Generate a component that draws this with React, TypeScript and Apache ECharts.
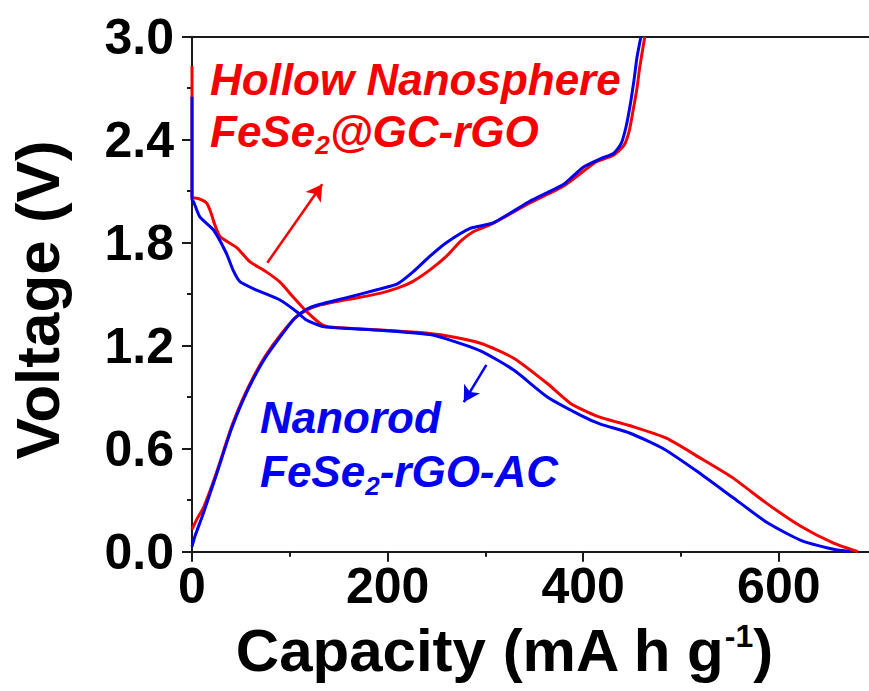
import React, { useEffect, useRef } from 'react';
import * as echarts from 'echarts';

// Capacity (mA h g-1), Voltage (V)
const hollowDischarge: number[][] = [
  [0, 2.83], [0, 2.06], [3, 2.06], [10, 2.05], [15, 2.03], [19, 1.98], [23, 1.91], [28, 1.84],
  [35, 1.81], [46, 1.77], [59, 1.69], [76, 1.63], [90, 1.57], [104, 1.48], [117, 1.4],
  [131, 1.33], [139, 1.31], [165, 1.3], [192, 1.292], [230, 1.278], [260, 1.258],
  [295, 1.214], [329, 1.127], [363, 0.981], [387, 0.864], [414, 0.79], [451, 0.728],
  [485, 0.661], [519, 0.548], [553, 0.43], [588, 0.28], [622, 0.15], [656, 0.05], [681, 0.0],
];
const hollowCharge: number[][] = [
  [0, 0.13], [5, 0.19], [12, 0.26], [25, 0.46], [40, 0.72], [52, 0.89], [63, 1.02],
  [75, 1.14], [90, 1.26], [105, 1.36], [118, 1.41], [130, 1.435], [160, 1.47], [192, 1.505],
  [210, 1.535], [226, 1.575], [243, 1.64], [260, 1.72], [275, 1.81], [288, 1.865],
  [305, 1.905], [345, 2.03], [380, 2.13], [413, 2.27], [431, 2.31], [442, 2.37],
  [447, 2.45], [451, 2.57], [455, 2.7], [458, 2.83], [463, 3.0],
];
const nanorodDischarge: number[][] = [
  [0, 2.65], [0, 2.05], [1.5, 2.04], [8, 1.95], [22, 1.874], [35, 1.74], [42, 1.64],
  [49, 1.573], [66, 1.524], [90, 1.466], [107, 1.398], [117, 1.35], [134, 1.311],
  [160, 1.3], [192, 1.29], [243, 1.265], [260, 1.24], [295, 1.17], [329, 1.058],
  [363, 0.903], [397, 0.796], [417, 0.745], [448, 0.69], [482, 0.6], [516, 0.47],
  [552, 0.32], [588, 0.17], [622, 0.068], [656, 0.014], [673, 0.0],
];
const nanorodCharge: number[][] = [
  [0, 0.03], [3, 0.09], [12, 0.23], [25, 0.45], [40, 0.71], [52, 0.88], [63, 1.01],
  [75, 1.13], [90, 1.25], [105, 1.36], [118, 1.415], [130, 1.44], [158, 1.48],
  [192, 1.53], [210, 1.56], [226, 1.63], [243, 1.72], [260, 1.8], [285, 1.885],
  [308, 1.915], [345, 2.04], [380, 2.14], [400, 2.24], [418, 2.29], [431, 2.32],
  [439, 2.38], [444, 2.48], [448, 2.6], [452, 2.75], [455, 2.88], [459, 3.0],
];
const redArrow: number[][] = [[77, 1.683], [133.2, 2.141]];
const blueArrow: number[][] = [[301, 1.088], [277.9, 0.871]];

const xMin = 0;
const xMax = 800;
const xStep = 200;
const yMin = 0;
const yMax = 3;
const yStep = 0.6;

const FONT = '"Liberation Sans", Arial, Helvetica, sans-serif';
const RED = '#f50000';
const BLUE = '#0000f0';
const AXIS = '#1a1a1a';

export default function App() {
  const ref = useRef<HTMLDivElement>(null);
  useEffect(() => {
    const chart = echarts.init(ref.current!, null, { renderer: 'svg' });
    const tickStyle = { color: AXIS, width: 2 };
    const labelStyle = { fontSize: 50, fontWeight: 'bold', color: '#000', fontFamily: FONT, lineHeight: 48 };
    const lineSeries = (name: string, data: number[][], color: string, arrow?: number[][]) => ({
      name,
      type: 'line',
      data,
      showSymbol: false,
      symbol: 'none',
      smooth: 0.2,
      lineStyle: { color, width: 3 },
      itemStyle: { color },
      z: color === BLUE ? 3 : 2,
      markLine: arrow
        ? {
            silent: true,
            animation: false,
            symbol: ['none', 'arrow'],
            symbolSize: [14, 16],
            lineStyle: { color, width: 2.5, type: 'solid' },
            label: { show: false },
            data: [[{ coord: arrow[0] }, { coord: arrow[1] }]],
          }
        : undefined,
    });
    const richText = (fill: string) => ({
      a: { fontSize: 44, fontWeight: 'bold', fontStyle: 'italic', fontFamily: FONT, fill, color: fill },
      s: {
        fontSize: 26, fontWeight: 'bold', fontStyle: 'italic', fontFamily: FONT, fill, color: fill,
        verticalAlign: 'bottom', lineHeight: 14,
      },
    });
    chart.setOption({
      animation: false,
      backgroundColor: '#fff',
      grid: { left: 192, top: 36.7, width: 782.4, height: 515, containLabel: false },
      xAxis: [
        {
          type: 'value', min: xMin, max: xMax, interval: xStep,
          axisLine: { show: true, onZero: false, lineStyle: tickStyle },
          axisTick: { show: true, length: 10, lineStyle: tickStyle },
          minorTick: { show: true, splitNumber: 2, length: 5, lineStyle: tickStyle },
          splitLine: { show: false },
          minorSplitLine: { show: false },
          axisLabel: { ...labelStyle, margin: 10, formatter: (v: number) => (v >= 700 ? '' : String(v)) },
        },
        {
          type: 'value', min: xMin, max: xMax, position: 'top',
          axisLine: { show: true, onZero: false, lineStyle: tickStyle },
          axisTick: { show: false }, axisLabel: { show: false }, splitLine: { show: false },
        },
      ],
      yAxis: {
        type: 'value', min: yMin, max: yMax, interval: yStep,
        axisLine: { show: true, onZero: false, lineStyle: tickStyle },
        axisTick: { show: true, length: 10, lineStyle: tickStyle },
        minorTick: { show: true, splitNumber: 2, length: 5, lineStyle: tickStyle },
        splitLine: { show: false },
        minorSplitLine: { show: false },
        axisLabel: { ...labelStyle, margin: 18, formatter: (v: number) => v.toFixed(1) },
      },
      series: [
        lineSeries('Hollow discharge', hollowDischarge, RED, redArrow),
        lineSeries('Hollow charge', hollowCharge, RED),
        lineSeries('Nanorod discharge', nanorodDischarge, BLUE, blueArrow),
        lineSeries('Nanorod charge', nanorodCharge, BLUE),
      ],
      graphic: [
        {
          type: 'text', x: 210, y: 53.8,
          style: {
            text: '{a|Hollow Nanosphere}\n{a|FeSe}{s|2}{a|@GC-rGO}',
            rich: richText(RED), fill: RED, fontSize: 44, fontWeight: 'bold', fontStyle: 'italic',
            fontFamily: FONT, lineHeight: 52, textAlign: 'left', textVerticalAlign: 'top',
          },
        },
        {
          type: 'text', x: 260, y: 390.8,
          style: {
            text: '{a|Nanorod}\n{a|FeSe}{s|2}{a|-rGO-AC}',
            rich: richText(BLUE), fill: BLUE, fontSize: 44, fontWeight: 'bold', fontStyle: 'italic',
            fontFamily: FONT, lineHeight: 54, textAlign: 'left', textVerticalAlign: 'top',
          },
        },
        {
          type: 'text', x: 504, y: 650,
          style: {
            text: '{a|Capacity (mA h g}{s|-1}{a|)}',
            rich: {
              a: { fontSize: 60, fontWeight: 'bold', fontFamily: FONT, fill: '#000', color: '#000', lineHeight: 60 },
              s: { fontSize: 32, fontWeight: 'bold', fontFamily: FONT, fill: '#000', color: '#000', verticalAlign: 'top', lineHeight: 22 },
            },
            fontSize: 60, fontWeight: 'bold', fontFamily: FONT, fill: '#000',
            textAlign: 'center', textVerticalAlign: 'middle',
          },
        },
        {
          type: 'text', x: 37, y: 300, rotation: Math.PI / 2,
          style: {
            text: 'Voltage (V)', fontSize: 62, fontWeight: 'bold', fontFamily: FONT, fill: '#000',
            textAlign: 'center', textVerticalAlign: 'middle',
          },
        },
      ],
    });
    return () => chart.dispose();
  }, []);
  return (
    <div style={{ position: 'fixed', left: 0, top: 0, width: 869, height: 691, overflow: 'hidden', background: '#fff' }}>
      <div ref={ref} style={{ width: 1000, height: 691 }} />
    </div>
  );
}
